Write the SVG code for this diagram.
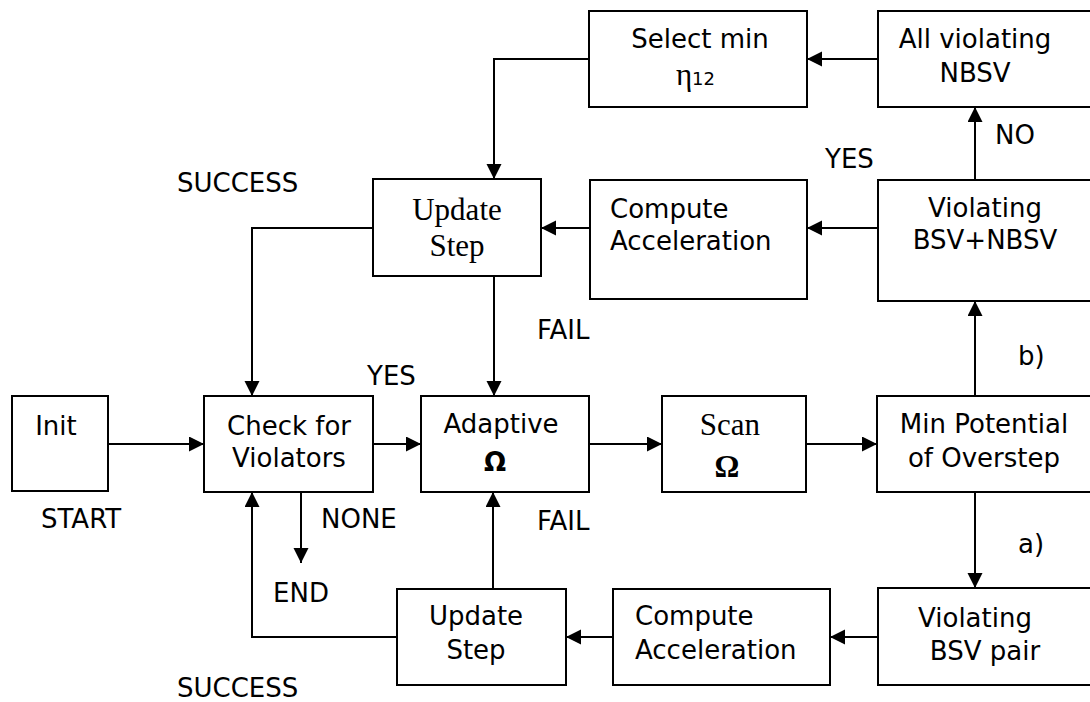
<svg xmlns="http://www.w3.org/2000/svg" width="1090" height="702" viewBox="0 0 1090 702">
  <defs>
    <marker id="arrow" markerUnits="userSpaceOnUse" markerWidth="16" markerHeight="16" refX="15" refY="7.5" orient="auto">
      <path d="M0,0 L15,7.5 L0,15 Z" fill="#000"/>
    </marker>
  </defs>
  <style>
    .box { fill: #fff; stroke: #000; stroke-width: 2; }
    .sans { font-family: "DejaVu Sans", Verdana, sans-serif; font-size: 26px; fill: #000; }
    .serif { font-family: "Liberation Serif", "Times New Roman", serif; font-size: 31px; fill: #000; }
    .mid { text-anchor: middle; }
    .wire { fill: none; stroke: #000; stroke-width: 2; }
    .arrow { marker-end: url(#arrow); }
  </style>
  <rect width="1090" height="702" fill="#fff"/>

  <!-- connectors -->
  <g id="connectors">
    <path class="wire arrow" d="M108,444 H204"/>
    <path class="wire arrow" d="M373,444 H421"/>
    <path class="wire arrow" d="M589,444 H662"/>
    <path class="wire arrow" d="M806,444 H877"/>
    <path class="wire arrow" d="M975,396 V301"/>
    <path class="wire arrow" d="M975,180 V107"/>
    <path class="wire arrow" d="M878,59 H807"/>
    <path class="wire arrow" d="M589,59 H494 V179"/>
    <path class="wire arrow" d="M878,228 H807"/>
    <path class="wire arrow" d="M590,228 H541"/>
    <path class="wire arrow" d="M373,228 H252 V396"/>
    <path class="wire arrow" d="M494,276 V396"/>
    <path class="wire arrow" d="M975,492 V588"/>
    <path class="wire arrow" d="M878,637 H830"/>
    <path class="wire arrow" d="M613,637 H566"/>
    <path class="wire arrow" d="M493,589 V492"/>
    <path class="wire arrow" d="M397,637 H252 V492"/>
    <path class="wire arrow" d="M301,492 V563"/>
  </g>

  <!-- nodes -->
  <g id="init">
    <rect class="box" x="12" y="396" width="96" height="95"/>
    <text class="sans mid" x="56" y="435">Init</text>
  </g>
  <g id="check">
    <rect class="box" x="204" y="396" width="169" height="96"/>
    <text class="sans mid" x="289" y="435">Check for</text>
    <text class="sans mid" x="289" y="467">Violators</text>
  </g>
  <g id="adaptive">
    <rect class="box" x="421" y="396" width="168" height="96"/>
    <text class="sans mid" x="501" y="433">Adaptive</text>
    <text class="sans mid" x="495" y="471" font-weight="bold">Ω</text>
  </g>
  <g id="scan">
    <rect class="box" x="662" y="396" width="144" height="96"/>
    <text class="serif mid" x="730" y="435">Scan</text>
    <text class="serif mid" x="727" y="477" font-weight="bold" font-size="29">Ω</text>
  </g>
  <g id="min-potential">
    <rect class="box" x="877" y="396" width="223" height="96"/>
    <text class="sans mid" x="984" y="433">Min Potential</text>
    <text class="sans mid" x="984" y="467">of Overstep</text>
  </g>
  <g id="violating-bsv-nbsv">
    <rect class="box" x="878" y="180" width="222" height="121"/>
    <text class="sans mid" x="985" y="217">Violating</text>
    <text class="sans mid" x="985" y="249">BSV+NBSV</text>
  </g>
  <g id="all-violating">
    <rect class="box" x="878" y="11" width="222" height="96"/>
    <text class="sans mid" x="975" y="48">All violating</text>
    <text class="sans mid" x="975" y="82">NBSV</text>
  </g>
  <g id="select-min">
    <rect class="box" x="589" y="11" width="218" height="96"/>
    <text class="sans mid" x="700" y="48">Select min</text>
    <text x="676" y="85" font-family="Liberation Serif, serif" font-size="31" fill="#000">η</text>
    <text x="692" y="85" font-family="DejaVu Sans, sans-serif" font-size="18" fill="#000">12</text>
  </g>
  <g id="compute-top">
    <rect class="box" x="590" y="180" width="217" height="119"/>
    <text class="sans" x="610" y="218">Compute</text>
    <text class="sans" x="610" y="250">Acceleration</text>
  </g>
  <g id="update-top">
    <rect class="box" x="373" y="179" width="168" height="97"/>
    <text class="serif mid" x="457" y="220">Update</text>
    <text class="serif mid" x="457" y="256">Step</text>
  </g>
  <g id="violating-pair">
    <rect class="box" x="878" y="588" width="222" height="97"/>
    <text class="sans mid" x="975" y="627">Violating</text>
    <text class="sans mid" x="985" y="660">BSV pair</text>
  </g>
  <g id="compute-bottom">
    <rect class="box" x="613" y="589" width="217" height="96"/>
    <text class="sans" x="635" y="625">Compute</text>
    <text class="sans" x="635" y="659">Acceleration</text>
  </g>
  <g id="update-bottom">
    <rect class="box" x="397" y="589" width="169" height="96"/>
    <text class="sans mid" x="476" y="625">Update</text>
    <text class="sans mid" x="476" y="659">Step</text>
  </g>

  <!-- edge labels -->
  <g id="labels">
    <text class="sans" x="177" y="192">SUCCESS</text>
    <text class="sans" x="177" y="697">SUCCESS</text>
    <text class="sans" x="367" y="385">YES</text>
    <text class="sans" x="825" y="168">YES</text>
    <text class="sans" x="995" y="144">NO</text>
    <text class="sans" x="537" y="339">FAIL</text>
    <text class="sans" x="537" y="530">FAIL</text>
    <text class="sans" x="1018" y="365">b)</text>
    <text class="sans" x="1018" y="553">a)</text>
    <text class="sans" x="321" y="528">NONE</text>
    <text class="sans" x="41" y="528">START</text>
    <text class="sans" x="273" y="602">END</text>
  </g>
</svg>
